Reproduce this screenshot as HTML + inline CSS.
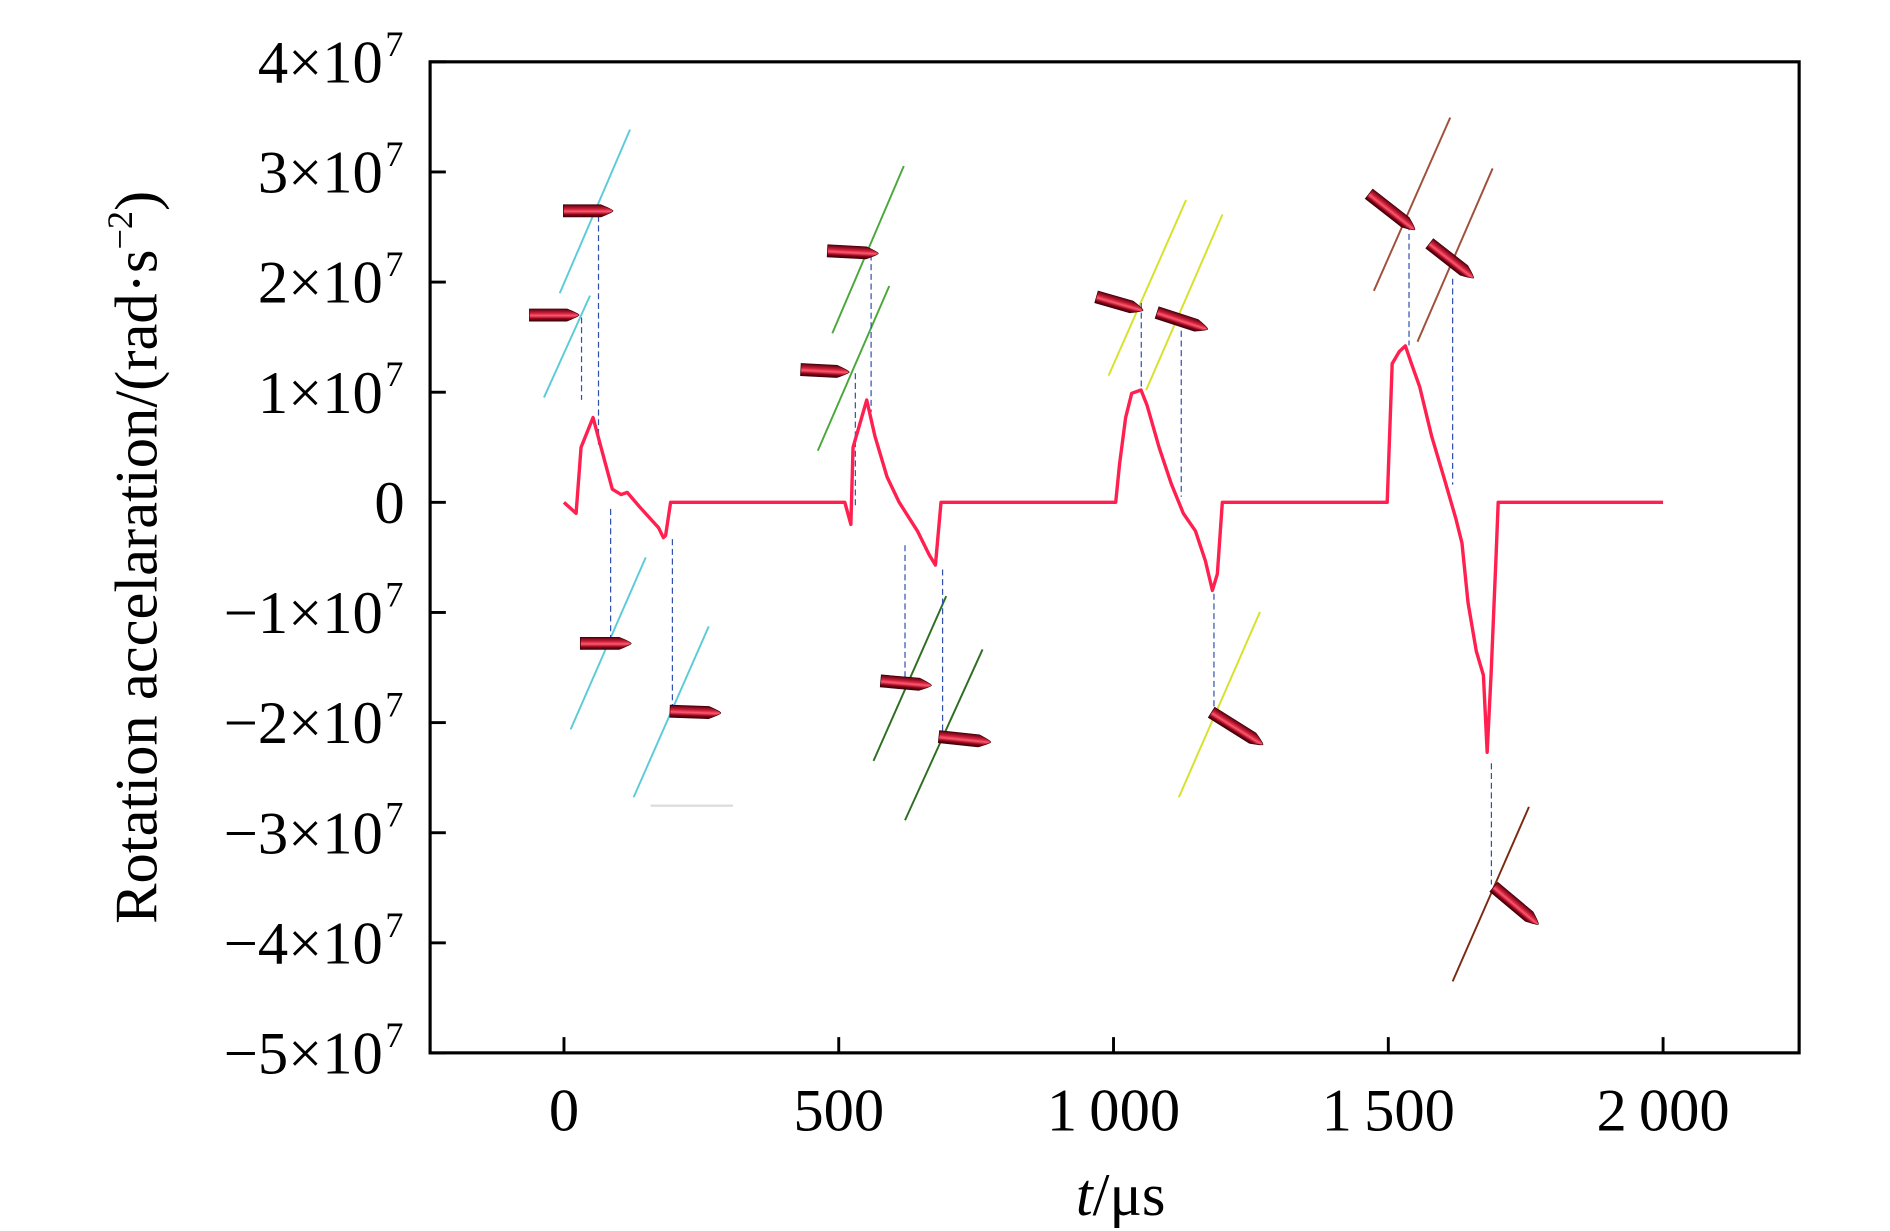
<!DOCTYPE html>
<html><head><meta charset="utf-8"><style>
html,body{margin:0;padding:0;background:#fff;}
svg{display:block;font-family:"Liberation Serif",serif;}
</style></head><body>
<svg id="chart" width="1890" height="1231" viewBox="0 0 1560 1016" xmlns="http://www.w3.org/2000/svg">
<defs>
<linearGradient id="bg" x1="0" y1="0" x2="0" y2="1">
<stop offset="0" stop-color="#5a0010"/><stop offset="0.35" stop-color="#d0203a"/><stop offset="0.55" stop-color="#ff5a70"/><stop offset="0.8" stop-color="#900018"/><stop offset="1" stop-color="#300008"/>
</linearGradient>
</defs>
<g id="plot"></g>
</svg>
<script>
// data
const xTicks = [0, 500, 1000, 1500, 2000];
const xTickLabels = ["0", "500", "1\u2009000", "1\u2009500", "2\u2009000"];
const yTicks = [4, 3, 2, 1, 0, -1, -2, -3, -4, -5];
const tValues = [0,22,31,53,70,88,104,115,139,172,181,185,194,
  511,522,526,551,566,588,610,643,665,676,686,
  1004,1011,1022,1033,1050,1061,1083,1105,1127,1149,1167,1180,1189,1198,
  1498,1507,1520,1531,1542,1557,1579,1601,1623,1634,1645,1660,1673,1680,1687,1696,1700,2000];
const accValues = [0,-0.1,0.5,0.77,0.45,0.12,0.07,0.09,-0.05,-0.23,-0.32,-0.3,0,
  0,-0.2,0.5,0.93,0.6,0.23,0,-0.26,-0.48,-0.57,0,
  0,0.35,0.77,0.99,1.02,0.88,0.5,0.17,-0.1,-0.26,-0.53,-0.8,-0.65,0,
  0,1.26,1.37,1.42,1.26,1.05,0.6,0.23,-0.15,-0.37,-0.91,-1.35,-1.57,-2.27,-1.57,-0.5,0,0];

const NS = "http://www.w3.org/2000/svg";
const g = document.getElementById("plot");
const L = 355, R = 1485, T = 51, B = 869;
const xs = t => 465.5 + t * (1372.7 - 465.5) / 2000;
const ys = v => 414.6 - v * 90.9;
function mk(tag, attrs, parent) {
  const e = document.createElementNS(NS, tag);
  for (const k in attrs) e.setAttribute(k, attrs[k]);
  (parent || g).appendChild(e);
  return e;
}

const frame = mk("rect", {x: L, y: T, width: R - L, height: B - T, fill: "none", stroke: "#000", "stroke-width": 2.6});



xTicks.forEach((t, i) => {
  const tk = mk("line", {x1: xs(t), x2: xs(t), y1: B, y2: B - 13, stroke: "#000", "stroke-width": 2.4});
  
  
  const tx = mk("text", {x: xs(t), y: 933, "font-size": 50, "text-anchor": "middle"});
  tx.textContent = xTickLabels[i];
  
  
});
yTicks.forEach(v => {
  const tk = mk("line", {x1: L, x2: L + 13, y1: ys(v), y2: ys(v), stroke: "#000", "stroke-width": 2.4});
  
  
  const tx = mk("text", {x: 334, y: ys(v) + 17, "font-size": 50, "text-anchor": "end"});
  
  
  if (v === 0) { tx.setAttribute("x", 334); tx.textContent = "0"; }
  else {
    tx.setAttribute("x", 316);
    tx.textContent = (v < 0 ? "\u2212" : "") + Math.abs(v) + "\u00d710";
    const sup = mk("text", {x: 318, y: ys(v) - 5, "font-size": 30, "text-anchor": "start"});
    sup.textContent = "7";
    
    
  }
});

const xt = mk("text", {x: 925, y: 1003, "font-size": 50, "text-anchor": "middle"});
xt.innerHTML = '<tspan font-style="italic">t</tspan>/\u03bcs';


const yt = mk("text", {x: 0, y: 0, "font-size": 50, "text-anchor": "middle", transform: "translate(129,460) rotate(-90)"});
yt.innerHTML = 'Rotation accelaration/(rad\u00b7s<tspan dy="-20" font-size="30">\u22122</tspan><tspan dy="20">)</tspan>';



const tangents = [
 [462,242,520,107,"#5ccbd8"],[449,328,487,244,"#5ccbd8"],[471,602,533,460,"#5ccbd8"],[523,658,585,517,"#5ccbd8"],
 [687,275,746,137,"#4aa83a"],[675,372,734,236,"#4aa83a"],[721,628,781,492,"#2d6e22"],[747,677,811,536,"#2d6e22"],
 [915,310,979,165,"#d6e22a"],[946,322,1009,177,"#d6e22a"],[973,658,1040,505,"#d6e22a"],
 [1134,240,1197,97,"#a0503a"],[1170,282,1232,139,"#a0503a"],[1199,810,1262,666,"#7a2a10"]];
tangents.forEach(a => {
  const l = mk("line", {x1: a[0], y1: a[1], x2: a[2], y2: a[3], stroke: a[4], "stroke-width": 1.6});
  
  
});
const guides = [[494,178,370],[480,262,330],[504,420,528],[555,445,585],[719,210,340],[706,308,420],[747,450,560],[778,470,608],[942,250,320],[975,265,410],[1002,490,585],[1163,185,285],[1199,230,400],[1231,630,730]];
guides.forEach(a => {
  const l = mk("line", {x1: a[0], y1: a[1], x2: a[0], y2: a[2], stroke: "#3050b0", "stroke-width": 1, "stroke-dasharray": "5,3"});
  
  
});
const grey = mk("line", {x1: 537, y1: 665, x2: 605, y2: 665, stroke: "#ddd", "stroke-width": 2});



const bullets = [[465,174,0,41],[437,260,0,41],[479,531,0,42],[553,587,2,42],
 [683,207,3,42],[661,305,3,40],[727,562,5,42],[775,608,6,43],
 [905,245,16,40],[955,258,18,44],[1000,588,32,50],[1130,160,38,48],[1180,201,38,46],[1233,732,40,48]];
bullets.forEach(b => {
  const grp = mk("g", {transform: `translate(${b[0]},${b[1]}) rotate(${b[2]})`});
  
  
  const len = b[3];
  mk("path", {d: `M0,-5 L${len-10},-5 Q${len},-1 ${len},0 Q${len},1 ${len-10},5 L0,5 Z`, fill: "url(#bg)", stroke: "#400008", "stroke-width": 0.6}, grp);
});

let d = "";
tValues.forEach((t, i) => { d += (i ? "L" : "M") + xs(t).toFixed(1) + "," + ys(accValues[i]).toFixed(1); });
const line = mk("path", {d: d, fill: "none", stroke: "#ff2050", "stroke-width": 2.8, "stroke-linejoin": "round"});


</script>
</body></html>
